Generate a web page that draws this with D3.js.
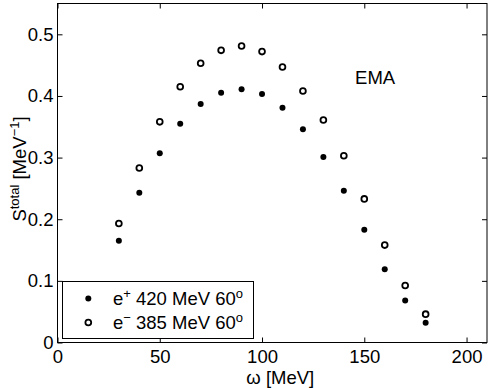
<!DOCTYPE html>
<html>
<head>
<meta charset="utf-8">
<script src="https://cdn.jsdelivr.net/npm/d3@7"></script>
<style>
  body { margin: 0; background: #fff; }
  text { font-family: "Liberation Sans", Arial, Helvetica, sans-serif; }
</style>
</head>
<body>
<div id="chart"></div>
<script>
// photon energy omega [MeV]
const omega = [30, 40, 50, 60, 70, 80, 90, 100, 110, 120, 130, 140, 150, 160, 170, 180];
// e+ 420 MeV 60 deg (filled dots)
const positron = [0.165, 0.243, 0.307, 0.355, 0.387, 0.405, 0.411, 0.403, 0.381, 0.346, 0.301, 0.246, 0.183, 0.119, 0.068, 0.032];
// e- 385 MeV 60 deg (open circles)
const electron = [0.193, 0.283, 0.358, 0.415, 0.453, 0.474, 0.481, 0.472, 0.447, 0.408, 0.361, 0.303, 0.233, 0.158, 0.0925, 0.046];
const xTicks = [0, 50, 100, 150, 200];
const yTicks = [0, 0.1, 0.2, 0.3, 0.4, 0.5];

const width = 491;
const height = 388;
const margin = { top: 3.5, right: 4, bottom: 45.5, left: 57.5 };

const svg = d3.select("#chart")
  .append("svg")
  .attr("width", width)
  .attr("height", height);

const x = d3.scaleLinear()
  .domain([0, 210])
  .range([margin.left, width - margin.right]);

const y = d3.scaleLinear()
  .domain([0, 0.55])
  .range([height - margin.bottom, margin.top]);

const tickLen = 5;
const fontSize = 18.5;
const supSize = 13;

// frame
svg.append("rect")
  .attr("x", x(0))
  .attr("y", y(0.55))
  .attr("width", x(210) - x(0))
  .attr("height", y(0) - y(0.55))
  .attr("fill", "none")
  .attr("stroke", "#000")
  .attr("stroke-width", 1);

function styleAxis(g) {
  g.select(".domain").remove();
  g.selectAll(".tick line").attr("stroke", "#000");
  g.selectAll(".tick text")
    .attr("font-size", fontSize)
    .attr("font-family", "Liberation Sans, Arial, sans-serif")
    .attr("fill", "#000");
}

// bottom axis, ticks inward
svg.append("g")
  .attr("transform", `translate(0,${y(0)})`)
  .call(d3.axisBottom(x).tickValues(xTicks).tickFormat(d3.format("d"))
    .tickSizeInner(-tickLen).tickSizeOuter(0).tickPadding(7.5))
  .call(styleAxis);

// top ticks
svg.append("g")
  .attr("transform", `translate(0,${y(0.55)})`)
  .call(d3.axisTop(x).tickValues(xTicks).tickFormat("")
    .tickSizeInner(-tickLen).tickSizeOuter(0))
  .call(styleAxis);

// left axis
svg.append("g")
  .attr("transform", `translate(${x(0)},0)`)
  .call(d3.axisLeft(y).tickValues(yTicks).tickFormat(d => d === 0 ? "0" : d3.format(".1f")(d))
    .tickSizeInner(-tickLen).tickSizeOuter(0).tickPadding(4))
  .call(styleAxis);

// right ticks
svg.append("g")
  .attr("transform", `translate(${x(210)},0)`)
  .call(d3.axisRight(y).tickValues(yTicks).tickFormat("")
    .tickSizeInner(-tickLen).tickSizeOuter(0))
  .call(styleAxis);

// data points
const pts = omega.map((w, i) => ({ w, p: positron[i], e: electron[i] }));

svg.append("g")
  .selectAll("circle")
  .data(pts)
  .join("circle")
    .attr("cx", d => x(d.w))
    .attr("cy", d => y(d.p))
    .attr("r", 3)
    .attr("fill", "#000");

svg.append("g")
  .selectAll("circle")
  .data(pts)
  .join("circle")
    .attr("cx", d => x(d.w))
    .attr("cy", d => y(d.e))
    .attr("r", 2.9)
    .attr("fill", "none")
    .attr("stroke", "#000")
    .attr("stroke-width", 1.8);

// EMA label
svg.append("text")
  .attr("x", x(145.5))
  .attr("y", y(0.419))
  .attr("font-size", fontSize)
  .text("EMA");

// axis titles
svg.append("text")
  .attr("x", (x(0) + x(210)) / 2 + 8)
  .attr("y", 384)
  .attr("text-anchor", "middle")
  .attr("font-size", fontSize)
  .text("ω [MeV]");

const yl = svg.append("text")
  .attr("transform", `translate(26,${(y(0) + y(0.55)) / 2 - 4}) rotate(-90)`)
  .attr("text-anchor", "middle")
  .attr("font-size", fontSize);
yl.append("tspan").text("S");
yl.append("tspan").attr("dy", -7.5).attr("font-size", supSize).text("total");
yl.append("tspan").attr("dy", 7.5).text(" [MeV");
yl.append("tspan").attr("dy", -7.5).attr("font-size", supSize).text("−1");
yl.append("tspan").attr("dy", 7.5).text("]");

// legend
const lg = svg.append("g");
lg.append("rect")
  .attr("x", 62.5)
  .attr("y", 281.5)
  .attr("width", 191)
  .attr("height", 57)
  .attr("fill", "#fff")
  .attr("stroke", "#000")
  .attr("stroke-width", 1);

const legendItems = [
  { sign: "+", label: " 420 MeV 60", filled: true },
  { sign: "−", label: " 385 MeV 60", filled: false }
];

legendItems.forEach((it, i) => {
  const cy = 298.5 + i * 24;
  lg.append("circle")
    .attr("cx", 88.3)
    .attr("cy", cy)
    .attr("r", it.filled ? 3 : 2.9)
    .attr("fill", it.filled ? "#000" : "none")
    .attr("stroke", it.filled ? "none" : "#000")
    .attr("stroke-width", 1.8);
  const t = lg.append("text")
    .attr("x", 113)
    .attr("y", cy + 6.5)
    .attr("font-size", fontSize);
  t.append("tspan").text("e");
  t.append("tspan").attr("dy", -7.5).attr("font-size", supSize).text(it.sign);
  t.append("tspan").attr("dy", 7.5).text(it.label);
  t.append("tspan").attr("dy", -7.5).attr("font-size", supSize).text("o");
});
</script>
</body>
</html>
